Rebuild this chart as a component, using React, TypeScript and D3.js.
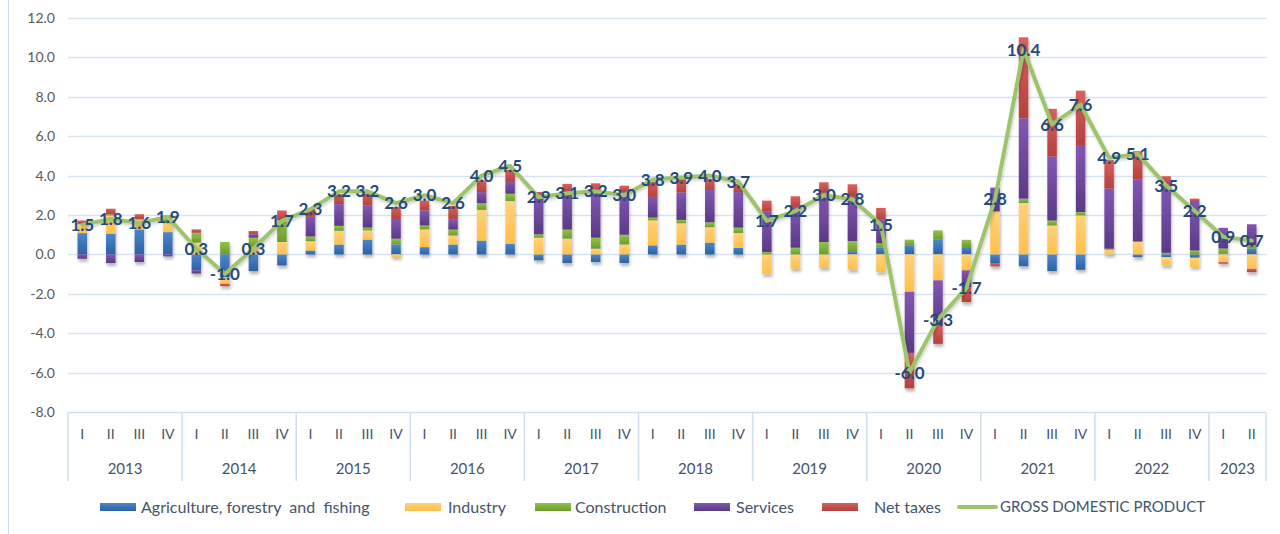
import React from 'react';
import * as d3 from 'd3';

const categories = [
  '2013-I','2013-II','2013-III','2013-IV',
  '2014-I','2014-II','2014-III','2014-IV',
  '2015-I','2015-II','2015-III','2015-IV',
  '2016-I','2016-II','2016-III','2016-IV',
  '2017-I','2017-II','2017-III','2017-IV',
  '2018-I','2018-II','2018-III','2018-IV',
  '2019-I','2019-II','2019-III','2019-IV',
  '2020-I','2020-II','2020-III','2020-IV',
  '2021-I','2021-II','2021-III','2021-IV',
  '2022-I','2022-II','2022-III','2022-IV',
  '2023-I','2023-II',
];
const years = ['2013','2014','2015','2016','2017','2018','2019','2020','2021','2022','2023'];

const agriculture = [
  1.08, 1.05, 1.27, 1.13,
  -0.8, -1.15, -0.85, -0.56,
  0.2, 0.5, 0.75, 0.5,
  0.37, 0.5, 0.7, 0.54,
  -0.3, -0.44, -0.39, -0.44,
  0.46, 0.5, 0.6, 0.34,
  0.0, 0.0, 0.0, 0.12,
  0.34, 0.46, 0.75, 0.37,
  -0.47, -0.6, -0.85, -0.78,
  0.0, -0.14, -0.14, -0.17,
  0.05, 0.29,
];
const industry = [
  0.45, 0.93, 0.5, 0.45,
  0.6, -0.34, 0.35, 0.63,
  0.47, 0.7, 0.47, -0.13,
  0.9, 0.46, 1.56, 2.17,
  0.85, 0.8, 0.29, 0.5,
  1.27, 1.08, 0.78, 0.75,
  -1.0, -0.73, -0.68, -0.78,
  -0.9, -1.9, -1.32, -0.81,
  2.15, 2.61, 1.47, 1.98,
  0.24, 0.63, -0.42, -0.47,
  -0.39, -0.73,
];
const construction = [
  0.02, 0.05, 0.03, 0.25,
  0.5, 0.63, 0.5, 1.1,
  0.24, 0.25, 0.14, 0.3,
  0.2, 0.3, 0.34, 0.37,
  0.17, 0.46, 0.56, 0.5,
  0.14, 0.17, 0.25, 0.27,
  0.12, 0.34, 0.63, 0.56,
  0.22, 0.29, 0.47, 0.37,
  0.05, 0.22, 0.25, 0.17,
  0.05, 0.03, 0.08, 0.2,
  0.25, 0.17,
];
const services = [
  -0.22, -0.44, -0.39, -0.1,
  -0.17, 0.0, 0.17, 0.0,
  1.0, 1.1, 1.13, 1.0,
  0.76, 0.5, 0.56, 0.6,
  1.9, 1.9, 2.3, 2.15,
  1.05, 1.4, 1.64, 1.8,
  2.05, 2.07, 2.5, 2.24,
  1.2, -3.1, -2.29, -0.85,
  1.19, 4.07, 3.25, 3.36,
  3.05, 3.14, 3.47, 2.46,
  1.05, 1.07,
];
const netTaxes = [
  0.17, 0.29, 0.24, 0.15,
  0.17, -0.12, 0.17, 0.5,
  0.4, 0.5, 0.6, 0.6,
  0.5, 0.7, 0.6, 0.6,
  0.25, 0.42, 0.46, 0.34,
  0.76, 0.68, 0.56, 0.42,
  0.56, 0.54, 0.53, 0.64,
  0.6, -1.8, -0.93, -0.76,
  -0.14, 4.12, 2.42, 2.8,
  1.44, 1.44, 0.42, 0.17,
  -0.08, -0.17,
];
const gdp = [
  1.5, 1.8, 1.6, 1.9,
  0.3, -1.0, 0.3, 1.7,
  2.3, 3.2, 3.2, 2.6,
  3.0, 2.6, 4.0, 4.5,
  2.9, 3.1, 3.2, 3.0,
  3.8, 3.9, 4.0, 3.7,
  1.7, 2.2, 3.0, 2.8,
  1.5, -6.0, -3.3, -1.7,
  2.8, 10.4, 6.6, 7.6,
  4.9, 5.1, 3.5, 2.2,
  0.9, 0.7,
];
const yTicks = [-8, -6, -4, -2, 0, 2, 4, 6, 8, 10, 12];

const seriesNames = ['Agriculture, forestry  and  fishing', 'Industry', 'Construction', 'Services', 'Net taxes'];
const seriesKeys = ['agri', 'ind', 'cons', 'serv', 'tax'];
const seriesValues = [agriculture, industry, construction, services, netTaxes];
const colorsLight = ['#4A86CF', '#FFD27A', '#92C24A', '#8257B4', '#D9615E'];
const colorsDark = ['#2C629F', '#FFC04A', '#6D9B2E', '#5A3A84', '#B3413F'];
const gdpName = 'GROSS DOMESTIC PRODUCT';
const gdpColor = '#9DC46B';

const W = 1280, H = 534;
const left = 68, right = 1266, top = 18, bottom = 412;
const font = 'Lato, "Open Sans", sans-serif';

export default function App() {
  const x = d3.scaleBand<string>().domain(categories).range([left, right]).padding(0);
  const bw = x.bandwidth();
  const barW = 9.5;
  const cx = (c: string) => (x(c) as number) + bw / 2;
  const y = d3.scaleLinear().domain([-8, 12]).range([bottom, top]);

  const table = categories.map((c, i) => {
    const row: any = { cat: c };
    seriesKeys.forEach((k, s) => { row[k] = seriesValues[s][i]; });
    return row;
  });
  const stacked = d3.stack<any>().keys(seriesKeys).offset(d3.stackOffsetDiverging)(table);

  const line = d3.line<number>().x((_, i) => cx(categories[i])).y(d => y(d));

  const groups: { year: string; start: number; end: number }[] = [];
  years.forEach(yr => {
    const idx = categories.map((c, i) => (c.startsWith(yr) ? i : -1)).filter(i => i >= 0);
    groups.push({ year: yr, start: idx[0], end: idx[idx.length - 1] });
  });

  const axisColor = '#CFDDEE';
  const textColor = '#44546A';

  const legendItems = [
    { label: seriesNames[0], s: 0, sx: 100, tx: 141 },
    { label: seriesNames[1], s: 1, sx: 405, tx: 448 },
    { label: seriesNames[2], s: 2, sx: 535, tx: 575 },
    { label: seriesNames[3], s: 3, sx: 694, tx: 736 },
    { label: seriesNames[4], s: 4, sx: 822, tx: 874 },
  ];

  return (
    <div style={{ position: 'absolute', left: 0, top: 0 }}>
      <svg width={W} height={H} style={{ display: 'block', background: '#fff' }}>
        <defs>
          {seriesKeys.map((k, s) => (
            <linearGradient key={k} id={'g-' + k} x1="0" y1="0" x2="0" y2="1">
              <stop offset="0%" stopColor={colorsLight[s]} />
              <stop offset="100%" stopColor={colorsDark[s]} />
            </linearGradient>
          ))}
          <filter id="shadow" x="-50%" y="-10%" width="200%" height="130%">
            <feDropShadow dx="1" dy="3" stdDeviation="1.6" floodColor="#000" floodOpacity="0.28" />
          </filter>
          <filter id="lshadow" x="-5%" y="-10%" width="110%" height="130%">
            <feDropShadow dx="1" dy="2" stdDeviation="1.5" floodColor="#000" floodOpacity="0.2" />
          </filter>
        </defs>

        <line x1={8.5} x2={8.5} y1={0} y2={H} stroke={axisColor} strokeWidth={1} />

        {yTicks.map(t => (
          <g key={t}>
            <line x1={left} x2={right} y1={Math.round(y(t)) + 0.5} y2={Math.round(y(t)) + 0.5}
              stroke={t === -8 ? axisColor : '#D6E2F1'} strokeWidth={1.5} />
            <text x={55} y={y(t)} dy="0.35em" textAnchor="end" fontFamily={font} fontSize={14} fill="#595959">
              {t.toFixed(1)}
            </text>
          </g>
        ))}

        {groups.map((g, gi) => (
          <line key={'sep' + gi} x1={x(categories[g.start]) as number} x2={x(categories[g.start]) as number}
            y1={bottom} y2={481} stroke={axisColor} strokeWidth={1.5} />
        ))}
        <line x1={right} x2={right} y1={bottom} y2={481} stroke={axisColor} strokeWidth={1.5} />

        {categories.map(c => (
          <text key={'q' + c} x={cx(c)} y={434} dy="0.35em" textAnchor="middle" fontFamily={font} fontSize={14} fill={textColor}>
            {c.split('-')[1]}
          </text>
        ))}
        {groups.map(g => {
          const x0 = x(categories[g.start]) as number;
          const x1 = (x(categories[g.end]) as number) + bw;
          return (
            <text key={'y' + g.year} x={(x0 + x1) / 2} y={469} dy="0.35em" textAnchor="middle" fontFamily={font} fontSize={15} fill={textColor}>
              {g.year}
            </text>
          );
        })}

        <g filter="url(#shadow)">
          {stacked.map(ser => (
            <g key={ser.key}>
              {ser.map((d, i) => {
                const y0 = y(d[0]);
                const y1 = y(d[1]);
                const h = Math.abs(y0 - y1);
                if (h < 0.01) return null;
                return (
                  <rect key={i} x={cx(categories[i]) - barW / 2} y={Math.min(y0, y1)} width={barW} height={h}
                    fill={`url(#g-${ser.key})`} />
                );
              })}
            </g>
          ))}
        </g>

        <path d={line(gdp) || ''} fill="none" stroke={gdpColor} strokeWidth={4} strokeLinejoin="round" strokeLinecap="round" filter="url(#lshadow)" />

        {gdp.map((v, i) => (
          <text key={'l' + i} x={cx(categories[i])} y={y(v)} dy="0.36em" textAnchor="middle" fontFamily={font}
            fontWeight={700} fontSize={17} fill="#244A7C">
            {v.toFixed(1)}
          </text>
        ))}

        {legendItems.map(it => (
          <g key={it.label}>
            <rect x={it.sx} y={503} width={36} height={8} fill={`url(#g-${seriesKeys[it.s]})`} />
            <text x={it.tx} y={507} dy="0.35em" fontFamily={font} fontSize={16} fill={textColor} style={{ whiteSpace: 'pre' }}>
              {it.label}
            </text>
          </g>
        ))}
        <line x1={959} x2={996} y1={507} y2={507} stroke={gdpColor} strokeWidth={4} strokeLinecap="round" />
        <text x={1000} y={507} dy="0.35em" fontFamily={font} fontSize={15} fill={textColor}>{gdpName}</text>
      </svg>
    </div>
  );
}
